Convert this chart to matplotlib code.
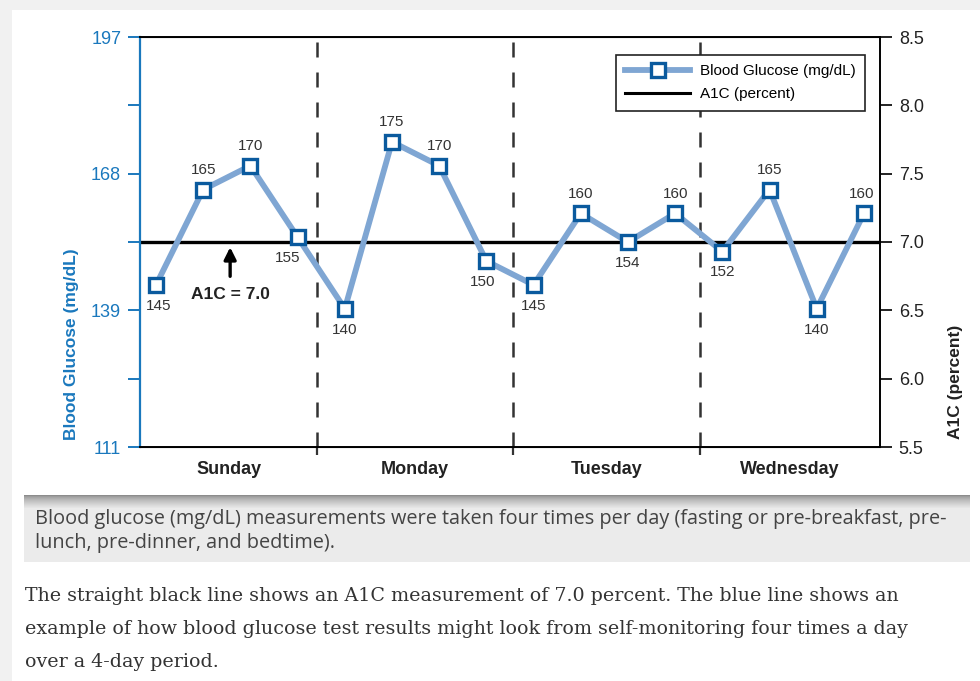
import matplotlib
matplotlib.use('Agg')
import matplotlib.pyplot as plt
from matplotlib.patches import Rectangle
from matplotlib.lines import Line2D
import numpy as np

# --- data ---
days = ['Sunday', 'Monday', 'Tuesday', 'Wednesday']
glucose = [145, 165, 170, 155, 140, 175, 170, 150,
           145, 160, 154, 160, 152, 165, 140, 160]
glucose_tick_labels = ['111', '', '139', '', '168', '', '197']
a1c_ticks = [5.5, 6.0, 6.5, 7.0, 7.5, 8.0, 8.5]
a1c_value = 7.0

# label placement (above / below the marker, plus small sideways nudges in px)
label_above = [False, True, True, False, False, True, True, False,
               False, True, False, True, False, True, False, True]
label_dx = [3, 0, 0, -10, 0, 0, 0, -4, 0, 0, 0, 0, 0, 0, 0, -2]

BLUE = '#1a78bd'
LINE_BLUE = '#7fa6d3'
MARK_BLUE = '#0a5a9e'
W, H = 980, 681

fig = plt.figure(figsize=(W / 100, H / 100), dpi=100)
fig.patch.set_facecolor('white')
plt.rcParams['font.family'] = ['Liberation Sans', 'DejaVu Sans']


def px(x0, y0, x1, y1):
    """pixel box (top-left origin) -> figure fraction rect"""
    return (x0 / W, 1 - y1 / H, (x1 - x0) / W, (y1 - y0) / H)


# page backdrop
fig.patches.append(Rectangle((0, 0), 12 / W, 1, transform=fig.transFigure,
                             facecolor='#f1f1f1', edgecolor='none', zorder=0))
fig.patches.append(Rectangle((0, 1 - 10 / H), 1, 10 / H, transform=fig.transFigure,
                             facecolor='#f1f1f1', edgecolor='none', zorder=0))
# caption box with shadow at the top
cx0, cy0, cw, ch = px(24, 495, 970, 562)
fig.patches.append(Rectangle((cx0, cy0), cw, ch, transform=fig.transFigure,
                             facecolor='#ebebeb', edgecolor='none', zorder=0))
for k in range(14):
    g = 0.55 + 0.37 * (k / 13) ** 0.7
    r = px(24, 495 + k, 970, 496 + k)
    fig.patches.append(Rectangle(r[:2], r[2], r[3], transform=fig.transFigure,
                                 facecolor=(g, g, g), edgecolor='none', zorder=0))

ax = fig.add_axes(px(140, 37, 880, 447))
x = np.arange(len(glucose))
ax.set_xlim(-0.34, 15.34)
ax.set_ylim(111, 197)

ax.plot(x, glucose, color=LINE_BLUE, lw=4.2, marker='s', ms=9.5,
        mfc='white', mec=MARK_BLUE, mew=2.4, zorder=5,
        solid_joinstyle='miter')

# A1C reference line on the right scale
ax2 = ax.twinx()
ax2.set_ylim(5.5, 8.5)
ax2.axhline(a1c_value, color='black', lw=2.4, zorder=1)
ax.set_zorder(ax2.get_zorder() + 1)
ax.patch.set_visible(False)

# day dividers
dividers = [3.42, 7.56, 11.53]
for d in dividers:
    ax.axvline(d, color='#333333', lw=1.8, dashes=(6, 6), zorder=0)
edges = [-0.34] + dividers + [15.34]
for i, day in enumerate(days):
    ax.text((edges[i] + edges[i + 1]) / 2, -0.035, day, transform=ax.get_xaxis_transform(),
            ha='center', va='top', fontsize=13, fontweight='bold', color='#222222')

# value labels
for xi, v, up, dx in zip(x, glucose, label_above, label_dx):
    dy = 14 if up else -15
    ax.annotate(str(v), (xi, v), textcoords='offset points',
                xytext=(dx * 0.72, dy), ha='center', va='center',
                fontsize=11, color='#333333', zorder=6)

# arrow + A1C label
ax.annotate('', xy=(1.57, 152.9), xytext=(1.57, 146.8),
            arrowprops=dict(arrowstyle='-|>', color='black', lw=2.4,
                            mutation_scale=18, shrinkA=0, shrinkB=0))
ax.text(1.57, 143.0, 'A1C = 7.0', ha='center', va='center',
        fontsize=12.5, fontweight='bold', color='#222222')

# left axis styling
ax.set_yticks(np.linspace(111, 197, 7))
ax.set_yticklabels(glucose_tick_labels)
ax.tick_params(axis='y', colors=BLUE, labelsize=13, length=8.5, width=1.4,
               direction='out', pad=5)
ax.spines['left'].set_color(BLUE)
ax.spines['left'].set_linewidth(1.6)
ax.set_ylabel('Blood Glucose (mg/dL)', color=BLUE, fontsize=12.5,
              fontweight='bold')
ax.yaxis.set_label_coords(-0.083, 0.25)
ax.set_xticks(dividers)
ax.set_xticklabels([])
ax.tick_params(axis='x', length=6, width=1.6, colors='#333333', direction='out')
for s in ['top', 'bottom']:
    ax.spines[s].set_linewidth(1.4)
ax.spines['right'].set_visible(False)

# right axis styling
ax2.set_yticks(a1c_ticks)
ax2.set_yticklabels([f'{t:.1f}' for t in a1c_ticks])
ax2.tick_params(axis='y', colors='#222222', labelsize=13, length=8.5, width=1.4, pad=5)
ax2.spines['right'].set_linewidth(1.4)
ax2.spines['left'].set_visible(False)
ax2.set_ylabel('A1C (percent)', fontsize=12.5, fontweight='bold', color='#222222')
ax2.yaxis.set_label_coords(1.092, 0.16)

# legend
handles = [Line2D([], [], color=LINE_BLUE, lw=4.2, marker='s', ms=9.5,
                  mfc='white', mec=MARK_BLUE, mew=2.4),
           Line2D([], [], color='black', lw=2.2)]
leg = ax.legend(handles, ['Blood Glucose (mg/dL)', 'A1C (percent)'],
                loc='upper right', bbox_to_anchor=(0.98, 0.956), borderaxespad=0,
                fontsize=11, handlelength=4.2, handletextpad=0.7,
                fancybox=False, framealpha=1,
                edgecolor='#222222', borderpad=0.6, labelspacing=0.6)
leg.get_frame().set_linewidth(1.2)

# caption and body text
fig.text(35 / W, 1 - 519 / H,
         'Blood glucose (mg/dL) measurements were taken four times per day (fasting or pre-breakfast, pre-',
         fontsize=14.3, family='Open Sans', color='#444444', va='center')
fig.text(35 / W, 1 - 543 / H, 'lunch, pre-dinner, and bedtime).',
         fontsize=14.3, family='Open Sans', color='#444444', va='center')
body = ['The straight black line shows an A1C measurement of 7.0 percent. The blue line shows an',
        'example of how blood glucose test results might look from self-monitoring four times a day',
        'over a 4-day period.']
for i, line in enumerate(body):
    fig.text(25 / W, 1 - (596 + 33 * i) / H, line, fontsize=13.7,
             family='DejaVu Serif', color='#333333', va='center')

plt.savefig('out.png', dpi=100)
